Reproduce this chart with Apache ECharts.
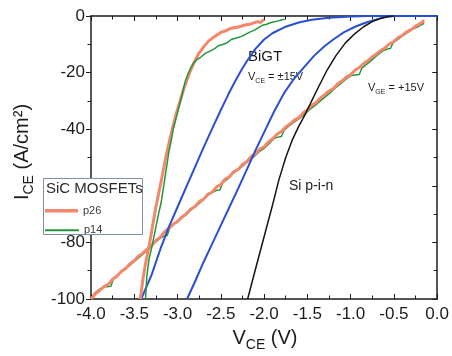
<!DOCTYPE html>
<html>
<head>
<meta charset="utf-8">
<script src="https://cdn.jsdelivr.net/npm/echarts@6/dist/echarts.min.js"></script>
<style>
  html, body { margin: 0; padding: 0; background: #ffffff; }
  #chart { width: 452px; height: 356px; }
</style>
</head>
<body>
<div id="chart"></div>
<script>
// Axis ranges and label step (one minor tick between labels)
const xRange = [-4.0, 0.0];
const xStep = 0.5;
const yRange = [-100, 0];
const yStep = 20;

// SiC MOSFET p26: steep curve and linear curve (VGE = +15V)
const p26Steep = [
  [-3.43,-100],[-3.40,-93],[-3.37,-87.5],[-3.33,-81.5],[-3.29,-74.5],[-3.25,-67.5],
  [-3.21,-61.5],[-3.18,-57],[-3.14,-50.5],[-3.10,-45],[-3.06,-40],[-3.02,-35],
  [-2.98,-31],[-2.92,-25],[-2.86,-20],[-2.81,-16.5],[-2.76,-13.5],[-2.70,-11],
  [-2.64,-8.8],[-2.57,-7.2],[-2.50,-5.8],[-2.44,-5.2],[-2.38,-4.3],[-2.30,-3.9],
  [-2.22,-3.2],[-2.15,-2.8],[-2.08,-2.0],[-2.04,-2.3],[-2.00,-1.2]
];
const p26Linear = [
  [-4.0,-100],[-3.95,-98.2],[-3.9,-97],[-3.85,-95.6],[-3.8,-94.8],[-3.75,-93],[-3.7,-92],
  [-3.65,-90.3],[-3.6,-89.2],[-3.55,-87.6],[-3.5,-86.5],[-3.45,-84.8],[-3.4,-83.8],
  [-3.35,-82.4],[-3.3,-81.2],[-3.25,-79.3],[-3.2,-78.2],[-3.15,-76.3],[-3.1,-75],
  [-3.05,-73.6],[-3.0,-72.6],[-2.95,-71],[-2.9,-70],[-2.85,-68.3],[-2.8,-67.4],
  [-2.75,-65.6],[-2.7,-64.8],[-2.65,-63],[-2.6,-62.2],[-2.55,-60.4],[-2.5,-59.6],
  [-2.45,-57.6],[-2.4,-56.8],[-2.35,-55],[-2.3,-54.2],[-2.25,-52.5],[-2.2,-51.5],
  [-2.15,-49.6],[-2.1,-48.8],[-2.05,-47],[-2.0,-46.2],[-1.95,-44.5],[-1.9,-43.4],
  [-1.85,-41.8],[-1.8,-40.8],[-1.75,-39.2],[-1.7,-38.2],[-1.65,-36.8],[-1.6,-36],
  [-1.55,-34.3],[-1.5,-33.2],[-1.45,-31.6],[-1.4,-30.6],[-1.35,-29],[-1.3,-27.8],
  [-1.25,-26.5],[-1.2,-25.6],[-1.15,-24],[-1.1,-23],[-1.05,-21.6],[-1.0,-20.8],
  [-0.95,-19.2],[-0.9,-18.2],[-0.85,-16.8],[-0.8,-15.8],[-0.75,-14.4],[-0.7,-13.4],
  [-0.65,-12.2],[-0.6,-11.2],[-0.55,-9.8],[-0.5,-9],[-0.45,-7.6],[-0.4,-6.8],
  [-0.35,-5.5],[-0.3,-4.8],[-0.25,-3.6],[-0.2,-2.8],[-0.15,-1.6]
];

// SiC MOSFET p14: steep curve and linear curve (VGE = +15V)
const p14Steep = [
  [-3.37,-100],[-3.355,-92],[-3.33,-86],[-3.30,-82],[-3.26,-76],[-3.22,-70],[-3.19,-66],
  [-3.16,-60],[-3.13,-54],[-3.10,-48],[-3.07,-43.5],[-3.05,-40],[-3.02,-36.5],
  [-2.99,-33],[-2.95,-28],[-2.91,-23],[-2.88,-20.5],[-2.85,-18.5],[-2.82,-16.8],
  [-2.78,-15.5],[-2.73,-14.5],[-2.68,-13.2],[-2.62,-12.3],[-2.57,-11.5],[-2.53,-10.5],
  [-2.47,-10],[-2.42,-9.3],[-2.38,-8.3],[-2.32,-7.8],[-2.26,-7.2],[-2.21,-6.4],
  [-2.16,-5.6],[-2.11,-5.0],[-2.06,-4.0],[-2.02,-3.3],[-1.97,-2.9],[-1.92,-2.3],
  [-1.86,-1.9],[-1.80,-1.4],[-1.76,-1.1]
];
const p14Linear = [
  [-4.0,-100],[-3.96,-98],[-3.9,-96.5],[-3.85,-95.8],[-3.8,-95.6],[-3.77,-95.5],
  [-3.74,-92.8],[-3.68,-91.2],[-3.62,-89.5],[-3.56,-88.3],[-3.5,-86.7],[-3.44,-85.2],
  [-3.38,-83.6],[-3.32,-82],[-3.26,-80],[-3.2,-78.6],[-3.16,-77.8],[-3.12,-77.6],
  [-3.09,-75],[-3.03,-73.2],[-2.97,-71.8],[-2.9,-70.2],[-2.84,-68.4],[-2.78,-67],
  [-2.72,-65.4],[-2.66,-63.6],[-2.6,-62.4],[-2.55,-61.6],[-2.51,-61.5],[-2.48,-59],
  [-2.42,-57.6],[-2.36,-55.6],[-2.3,-54.4],[-2.24,-52.8],[-2.18,-51.2],[-2.12,-49.8],
  [-2.06,-48],[-2.0,-46.8],[-1.94,-45],[-1.88,-43.2],[-1.84,-42.8],[-1.8,-42.6],
  [-1.77,-40.4],[-1.71,-38.8],[-1.65,-37.4],[-1.59,-36.2],[-1.53,-34.6],[-1.47,-33],
  [-1.41,-31.6],[-1.35,-30],[-1.29,-28.5],[-1.23,-27],[-1.17,-25.2],[-1.11,-23.8],
  [-1.05,-22.2],[-0.99,-21],[-0.93,-20.8],[-0.9,-20.7],[-0.87,-18.4],[-0.81,-16.9],
  [-0.75,-15.4],[-0.69,-13.8],[-0.63,-12.4],[-0.57,-11.6],[-0.54,-11.5],[-0.51,-9.4],
  [-0.45,-8.2],[-0.39,-6.8],[-0.33,-5.6],[-0.27,-4.4],[-0.21,-3.6],[-0.15,-2.6]
];

// BiGT, VCE = ±15V (two curves)
const bigtA = [
  [-3.42,-100],[-3.3,-91.5],[-3.2,-82.5],[-3.1,-74.5],[-3.0,-67.5],[-2.9,-60.5],
  [-2.81,-54.2],[-2.7,-46.5],[-2.6,-39.8],[-2.5,-33.2],[-2.41,-27.5],[-2.33,-22.8],
  [-2.26,-19],[-2.2,-16],[-2.1,-11.6],[-2.0,-8.3],[-1.9,-6],[-1.76,-3.9],[-1.6,-2.3],
  [-1.45,-1.3],[-1.25,-0.6],[-1.0,-0.2],[-0.8,0],[0,0]
];
const bigtB = [
  [-2.89,-100],[-2.8,-94],[-2.7,-87],[-2.6,-80.5],[-2.5,-74],[-2.4,-67.5],[-2.3,-61],
  [-2.21,-55],[-2.1,-47.5],[-1.99,-40.5],[-1.88,-33.5],[-1.76,-26.8],[-1.65,-22],
  [-1.55,-18.5],[-1.42,-14],[-1.3,-10.6],[-1.2,-8.3],[-1.08,-5.8],[-0.95,-3.8],
  [-0.82,-2.3],[-0.7,-1.2],[-0.6,-0.4],[-0.5,0],[0,0]
];

// Si p-i-n diode
const siPin = [
  [-2.19,-100],[-2.1,-89.5],[-2.0,-78],[-1.9,-66.5],[-1.83,-58],[-1.75,-50],[-1.67,-43.5],
  [-1.6,-39],[-1.53,-35],[-1.45,-30],[-1.37,-25],[-1.27,-19],[-1.17,-14],[-1.06,-9.5],
  [-0.95,-6.2],[-0.85,-3.8],[-0.75,-2],[-0.65,-0.8],[-0.55,-0.1],[-0.5,0]
];

const FONT = '"Liberation Sans", Arial, Helvetica, sans-serif';
const INK = '#1c1c1c';
const C_P26 = '#f3866b';
const C_P14 = '#21973c';
const C_BLUE = '#2a4fd0';
const C_PIN = '#141414';

const FRAME = { left: 91, right: 12, top: 16, bottom: 57 };

const chart = echarts.init(document.getElementById('chart'), null, { renderer: 'canvas' });

function lineSeries(name, data, color, width, z) {
  return {
    name: name, type: 'line', data: data, xAxisIndex: 0, yAxisIndex: 0,
    showSymbol: false, symbol: 'none', smooth: false, z: z,
    lineStyle: { color: color, width: width },
    itemStyle: { color: color },
    emphasis: { disabled: true }, animation: false
  };
}

function subText(main, sub, rest, size, subSize, lh) {
  return {
    text: '{m|' + main + '}{s|' + sub + '}{m|' + rest + '}',
    rich: {
      m: { fontFamily: FONT, fontSize: size, lineHeight: lh, fill: INK, color: INK },
      s: { fontFamily: FONT, fontSize: subSize, lineHeight: subSize, verticalAlign: 'bottom', fill: INK, color: INK }
    }
  };
}

// Frame axis: major tick marks from axisTick, the in-between ones from minorTick
function frameAxis(pos, range, step, inside, label) {
  return {
    type: 'value', position: pos, min: range[0], max: range[1], interval: step,
    axisLine: { show: true, onZero: false, lineStyle: { color: INK, width: 1.5 } },
    axisTick: { show: true, inside: inside, length: 5, lineStyle: { color: INK, width: 1 } },
    minorTick: { show: true, splitNumber: 2, length: 3.5, lineStyle: { color: INK, width: 1 } },
    splitLine: { show: false },
    axisLabel: label || { show: false }
  };
}

const option = {
  backgroundColor: '#ffffff',
  animation: false,
  grid: FRAME,
  xAxis: [
    frameAxis('bottom', xRange, xStep, true, { show: true, color: INK, fontFamily: FONT, fontSize: 17,
      margin: 7, formatter: v => v.toFixed(1) }),
    frameAxis('top', xRange, xStep, true)
  ],
  yAxis: [
    frameAxis('left', yRange, yStep, false, { show: true, color: INK, fontFamily: FONT, fontSize: 17,
      margin: 6, formatter: v => String(Math.round(v)) }),
    frameAxis('right', yRange, yStep, true)
  ],
  legend: [
    {
      data: [{ name: 'p26', icon: 'rect' }], left: 45, top: 205.25, orient: 'vertical',
      itemWidth: 33, itemHeight: 3.5, itemGap: 0, padding: 0, z: 20,
      selectedMode: false,
      textStyle: { color: '#3a3a3a', fontFamily: FONT, fontSize: 11 }
    },
    {
      data: [{ name: 'p14', icon: 'rect' }], left: 45, top: 224.7, orient: 'vertical',
      itemWidth: 34, itemHeight: 2, itemGap: 0, padding: 0, z: 20,
      selectedMode: false,
      textStyle: { color: '#3a3a3a', fontFamily: FONT, fontSize: 11 }
    }
  ],
  graphic: [
    // legend frame and heading
    { type: 'rect', z: 15, shape: { x: 43.5, y: 178.5, width: 99, height: 56 },
      style: { fill: '#ffffff', stroke: '#7d90a6', lineWidth: 1 } },
    { type: 'text', z: 21, x: 46, y: 189,
      style: { text: 'SiC MOSFETs', fill: '#2a2a2a', font: '15px ' + FONT,
        verticalAlign: 'middle', align: 'left' } },
    // axis titles
    { type: 'text', z: 5, x: 265, y: 338,
      style: Object.assign({ align: 'center', verticalAlign: 'middle' },
        subText('V', 'CE', ' (V)', 20, 14, 28)) },
    { type: 'text', z: 5, x: 22, y: 152, rotation: Math.PI / 2,
      style: Object.assign({ align: 'center', verticalAlign: 'middle' },
        subText('I', 'CE', ' (A/cm²)', 20, 14, 28)) },
    // curve annotations
    { type: 'text', z: 5, x: 248, y: 57,
      style: { text: 'BiGT', fill: INK, font: '15px ' + FONT, verticalAlign: 'middle' } },
    { type: 'text', z: 5, x: 248, y: 77,
      style: Object.assign({ verticalAlign: 'middle' }, subText('V', 'CE', ' = ±15V', 11, 7, 15)) },
    { type: 'text', z: 5, x: 368, y: 88,
      style: Object.assign({ verticalAlign: 'middle' }, subText('V', 'GE', ' = +15V', 11, 7, 15)) },
    { type: 'text', z: 5, x: 289, y: 186,
      style: { text: 'Si p-i-n', fill: INK, font: '14px ' + FONT, verticalAlign: 'middle' } }
  ],
  series: [
    lineSeries('p14', p14Linear, C_P14, 1.5, 3),
    lineSeries('p26', p26Linear, C_P26, 3, 4),
    lineSeries('BiGT A', bigtA, C_BLUE, 2, 5),
    lineSeries('BiGT B', bigtB, C_BLUE, 2, 5),
    lineSeries('Si p-i-n', siPin, C_PIN, 1.5, 5),
    lineSeries('p26', p26Steep, C_P26, 3, 6),
    lineSeries('p14', p14Steep, C_P14, 1.5, 7)
  ]
};

chart.setOption(option);
</script>
</body>
</html>
